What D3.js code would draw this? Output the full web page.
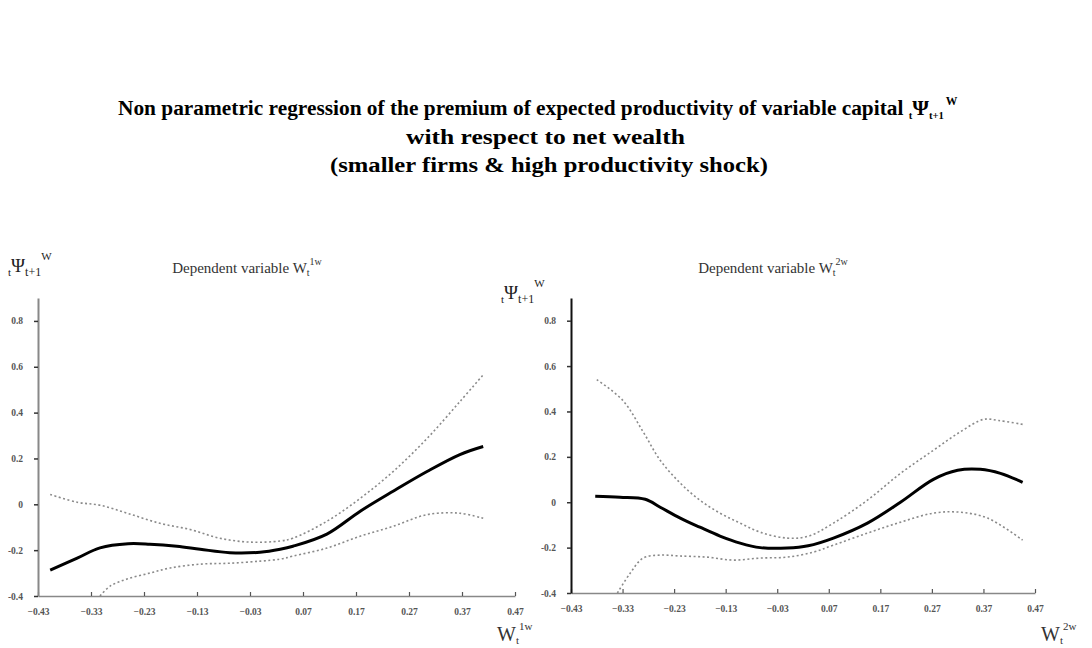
<!DOCTYPE html>
<html>
<head>
<meta charset="utf-8">
<script src="https://cdn.jsdelivr.net/npm/d3@7"></script>
<style>
  html, body { margin: 0; padding: 0; background: #fff; }
  svg { display: block; }
</style>
</head>
<body>
<svg id="chart" width="1092" height="648"></svg>
<script>
// ---------- data ----------
const titleLines = [
  "Non parametric regression of the premium of expected productivity of variable capital ",
  "with respect to net wealth",
  "(smaller firms & high productivity shock)"
];
const panelTitles = ["Dependent variable W", "Dependent variable W"];
const panelSups = ["1w", "2w"];
const xTicks = [-0.43, -0.33, -0.23, -0.13, -0.03, 0.07, 0.17, 0.27, 0.37, 0.47];
const yTicks = [-0.4, -0.2, 0, 0.2, 0.4, 0.6, 0.8];
const yTickLabels = ["-0.4", "-0.2", "0", "0.2", "0.4", "0.6", "0.8"];

// left panel (W1w): [x, y]
const leftMid = [[-0.407,-0.287],[-0.356,-0.235],[-0.313,-0.19],[-0.26,-0.172],[-0.219,-0.174],[-0.168,-0.183],[-0.124,-0.196],[-0.068,-0.211],[-0.011,-0.209],[0.027,-0.196],[0.051,-0.183],[0.115,-0.13],[0.178,-0.03],[0.24,0.057],[0.304,0.143],[0.366,0.217],[0.41,0.252]];
const leftUpper = [[-0.407,0.043],[-0.356,0.009],[-0.313,-0.004],[-0.26,-0.04],[-0.2,-0.083],[-0.143,-0.11],[-0.087,-0.148],[-0.03,-0.165],[0.027,-0.16],[0.051,-0.148],[0.115,-0.074],[0.178,0.026],[0.24,0.143],[0.304,0.287],[0.366,0.448],[0.41,0.565]];
const leftLower = [[-0.313,-0.4],[-0.294,-0.357],[-0.262,-0.326],[-0.219,-0.3],[-0.181,-0.278],[-0.124,-0.261],[-0.068,-0.257],[-0.011,-0.248],[0.027,-0.239],[0.051,-0.226],[0.115,-0.191],[0.178,-0.139],[0.24,-0.096],[0.304,-0.045],[0.366,-0.039],[0.41,-0.061]];

// right panel (W2w): [x, y]
const rightMid = [[-0.383,0.026],[-0.335,0.022],[-0.286,0.013],[-0.257,-0.022],[-0.218,-0.07],[-0.18,-0.11],[-0.141,-0.149],[-0.102,-0.18],[-0.063,-0.2],[-0.011,-0.202],[0.03,-0.192],[0.079,-0.158],[0.145,-0.092],[0.209,0],[0.273,0.101],[0.32,0.141],[0.364,0.145],[0.403,0.127],[0.446,0.088]];
const rightUpper = [[-0.38,0.54],[-0.33,0.45],[-0.29,0.31],[-0.257,0.185],[-0.218,0.084],[-0.18,0.009],[-0.141,-0.048],[-0.102,-0.092],[-0.063,-0.132],[-0.011,-0.158],[0.03,-0.15],[0.079,-0.092],[0.145,0.009],[0.209,0.127],[0.273,0.229],[0.325,0.31],[0.37,0.365],[0.40,0.36],[0.446,0.343]];
const rightLower = [[-0.34,-0.4],[-0.315,-0.312],[-0.29,-0.246],[-0.257,-0.233],[-0.218,-0.237],[-0.166,-0.242],[-0.115,-0.255],[-0.063,-0.246],[-0.011,-0.242],[0.04,-0.22],[0.079,-0.189],[0.145,-0.136],[0.209,-0.088],[0.273,-0.048],[0.325,-0.044],[0.378,-0.07],[0.446,-0.167]];

// ---------- drawing ----------
const svg = d3.select("#chart");
svg.append("rect").attr("width", 1092).attr("height", 648).attr("fill", "#fff");

const serif = "'Liberation Serif', 'Times New Roman', serif";

// fit a text horizontally between x0 and x0+width by scaling
function fit(sel, x0, width, yBase) {
  const w = sel.node().getBBox().width;
  sel.attr("x", 0).attr("y", 0)
     .attr("transform", `translate(${x0},${yBase}) scale(${width / w},1)`);
}

// Title
const title = svg.append("g").attr("font-family", serif).attr("font-weight", "bold")
  .attr("font-size", 22).attr("fill", "#000");
const t1 = title.append("text");
t1.append("tspan").text(titleLines[0]);
t1.append("tspan").attr("font-size", 11).attr("dy", 4).text("t");
t1.append("tspan").attr("dy", -4).text("Ψ");
t1.append("tspan").attr("font-size", 11).attr("dy", 4).text("t+1");
t1.append("tspan").attr("font-size", 12).attr("dy", -14).attr("dx", 2).text("W");
fit(t1, 118, 840, 115);
const t2 = title.append("text").text(titleLines[1]);
fit(t2, 406, 279, 144);
const t3 = title.append("text").text(titleLines[2]);
fit(t3, 330, 438, 172);

const panels = [
  { x0: 38, x1: 515, y0: 596, y1: 298, mid: leftMid, up: leftUpper, lo: leftLower,
    axisColor: "#888", titleX: 247, titleY: 273, ylabX: 8, ylabY: 272, xlabX: 497, xlabY: 641, idx: 0 },
  { x0: 571, x1: 1035, y0: 593, y1: 298, mid: rightMid, up: rightUpper, lo: rightLower,
    axisColor: "#111", titleX: 773, titleY: 273, ylabX: 501, ylabY: 299, xlabX: 1041, xlabY: 641, idx: 1 }
];

panels.forEach(p => {
  const x = d3.scaleLinear().domain([xTicks[0], xTicks[xTicks.length - 1]]).range([p.x0, p.x1]);
  const y = d3.scaleLinear().domain([-0.4, 0.9]).range([p.y0, p.y1]);
  const g = svg.append("g");

  // x axis
  const xa = g.append("g").attr("transform", `translate(0,${p.y0})`)
    .call(d3.axisBottom(x).tickValues(xTicks).tickSize(-4).tickSizeOuter(0)
      .tickFormat(d => d3.format(".2f")(d)));
  xa.select(".domain").attr("stroke", "#888").attr("stroke-width", 1.5);
  xa.selectAll(".tick line").attr("stroke", "#555").attr("stroke-width", 1.2);
  xa.selectAll(".tick text").attr("y", 12).attr("font-family", serif).attr("font-size", 9.5)
    .attr("font-weight", "bold").attr("fill", "#555");

  // y axis
  const ya = g.append("g").attr("transform", `translate(${p.x0},0)`)
    .call(d3.axisLeft(y).tickValues(yTicks).tickSize(4).tickSizeOuter(0)
      .tickFormat((d, i) => yTickLabels[i]));
  ya.select(".domain").attr("stroke", p.axisColor).attr("stroke-width", 2);
  ya.selectAll(".tick line").attr("stroke", "#333").attr("stroke-width", 1.5);
  ya.selectAll(".tick text").attr("x", -15).attr("font-family", serif).attr("font-size", 9.5)
    .attr("font-weight", "bold").attr("fill", "#555");

  // clip to plot
  const cid = "clip" + p.idx;
  svg.append("clipPath").attr("id", cid).append("rect")
    .attr("x", p.x0).attr("y", p.y1).attr("width", p.x1 - p.x0).attr("height", p.y0 - p.y1);

  const line = d3.line().x(d => x(d[0])).y(d => y(d[1])).curve(d3.curveCatmullRom.alpha(0.5));
  const lg = g.append("g").attr("clip-path", `url(#${cid})`);
  [p.up, p.lo].forEach(s => {
    lg.append("path").attr("d", line(s)).attr("fill", "none")
      .attr("stroke", "#8a8a8a").attr("stroke-width", 1.6).attr("stroke-dasharray", "2,2.5");
  });
  lg.append("path").attr("d", line(p.mid)).attr("fill", "none")
    .attr("stroke", "#000").attr("stroke-width", 3);

  // panel title
  const pt = g.append("text").attr("x", p.titleX).attr("y", p.titleY).attr("text-anchor", "middle")
    .attr("font-family", serif).attr("font-size", 15).attr("fill", "#333");
  pt.append("tspan").text(panelTitles[p.idx]);
  pt.append("tspan").attr("font-size", 10).attr("dy", 3).text("t");
  pt.append("tspan").attr("font-size", 10).attr("dy", -11).text(panelSups[p.idx]);

  // y label
  const yl = g.append("text").attr("x", p.ylabX).attr("y", p.ylabY)
    .attr("font-family", serif).attr("font-size", 19).attr("fill", "#222");
  yl.append("tspan").attr("font-size", 11).attr("dy", 4).text("t");
  yl.append("tspan").attr("dy", -4).text("Ψ");
  yl.append("tspan").attr("font-size", 12).attr("dy", 4).text("t+1");
  yl.append("tspan").attr("font-size", 11).attr("dy", -16).text("W");

  // x label
  const xl = g.append("text").attr("x", p.xlabX).attr("y", p.xlabY)
    .attr("font-family", serif).attr("font-size", 20).attr("fill", "#333");
  xl.append("tspan").text("W");
  xl.append("tspan").attr("font-size", 11).attr("dy", 3).text("t");
  xl.append("tspan").attr("font-size", 11).attr("dy", -14).text(panelSups[p.idx]);
});
</script>
</body>
</html>
